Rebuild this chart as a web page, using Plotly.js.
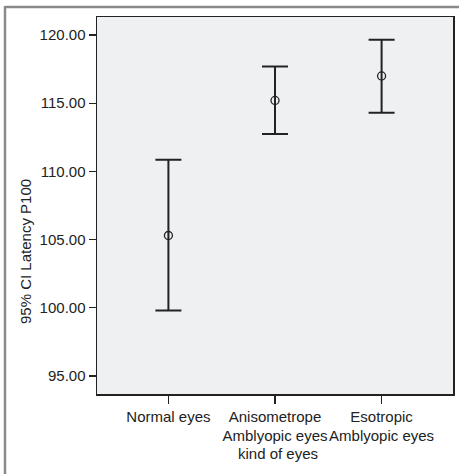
<!DOCTYPE html>
<html>
<head>
<meta charset="utf-8">
<script src="https://cdn.plot.ly/plotly-3.0.1.min.js"></script>
<style>html,body{margin:0;padding:0;background:#fff;}</style>
</head>
<body>
<div id="chart" style="width:459px;height:474px;"></div>
<script>
var categories = ["Normal eyes", "Anisometrope<br>Amblyopic eyes", "Esotropic<br>Amblyopic eyes"];
var means = [105.3, 115.2, 117.0];
var upper = [110.85, 117.7, 119.65];
var lower = [99.8, 112.75, 114.3];
var yTicks = [95, 100, 105, 110, 115, 120];
var xTitle = "kind of eyes";
var yTitle = "95% CI Latency P100";

var xIdx = categories.map(function(_, i){ return i; });
var W = 459, H = 474, L = 97, R = 6, T = 17, B = 80;
var pw = W - L - R, ph = H - T - B;
function px(x){ return (x - L) / pw; }
function py(y){ return (H - B - y) / ph; }

var trace = {
  x: xIdx,
  y: means,
  type: 'scatter',
  mode: 'markers',
  marker: {symbol: 'circle-open', size: 8, color: '#222', line: {width: 1.3, color: '#222'}},
  error_y: {
    type: 'data',
    symmetric: false,
    array: upper.map(function(u, i){ return u - means[i]; }),
    arrayminus: lower.map(function(l, i){ return means[i] - l; }),
    color: '#222',
    thickness: 2,
    width: 13
  },
  hoverinfo: 'none'
};

var font = {family: 'Liberation Sans, Arial, sans-serif', size: 15, color: '#222'};

var layout = {
  width: W, height: H,
  margin: {l: L, r: R, t: T, b: B},
  paper_bgcolor: '#ffffff',
  plot_bgcolor: '#eff0f2',
  showlegend: false,
  font: font,
  xaxis: {
    range: [-0.67, 2.67],
    tickmode: 'array',
    tickvals: xIdx,
    ticktext: categories,
    tickangle: 0,
    ticks: 'outside', ticklen: 8, tickwidth: 1.3, tickcolor: '#222',
    showline: true, mirror: true, linecolor: '#222', linewidth: 1.5,
    showgrid: false, zeroline: false,
    tickfont: font,
    automargin: false
  },
  yaxis: {
    range: [93.68, 121.32],
    tickmode: 'array',
    tickvals: yTicks,
    tickformat: '.2f',
    ticks: 'outside', ticklen: 7, tickwidth: 1.3, tickcolor: '#222',
    showline: true, mirror: true, linecolor: '#222', linewidth: 1.5,
    showgrid: false, zeroline: false,
    tickfont: font,
    automargin: false
  },
  annotations: [
    {text: xTitle, xref: 'paper', yref: 'paper', x: px(278), y: py(453),
     xanchor: 'center', yanchor: 'middle', showarrow: false, font: font},
    {text: yTitle, xref: 'paper', yref: 'paper', x: px(25), y: py(252),
     xanchor: 'center', yanchor: 'middle', showarrow: false, textangle: -90, font: font}
  ],
  shapes: [
    {type: 'line', xref: 'paper', yref: 'paper', x0: px(5), x1: px(462), y0: py(7), y1: py(7),
     line: {color: '#8a8a8a', width: 2.5}},
    {type: 'line', xref: 'paper', yref: 'paper', x0: px(5), x1: px(5), y0: py(6), y1: py(478),
     line: {color: '#8a8a8a', width: 2.5}}
  ]
};

Plotly.newPlot('chart', [trace], layout, {staticPlot: true, displayModeBar: false});
</script>
</body>
</html>
